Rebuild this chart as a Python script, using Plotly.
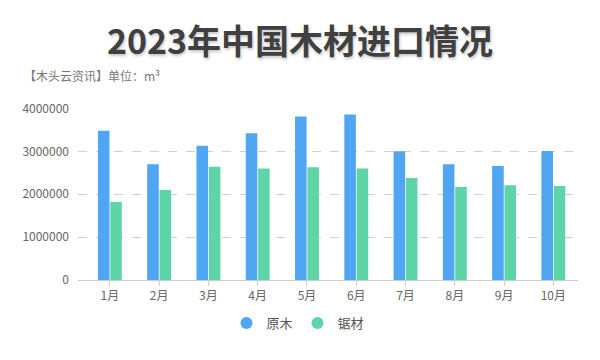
import plotly.graph_objects as go

months = ["1月", "2月", "3月", "4月", "5月", "6月", "7月", "8月", "9月", "10月"]
logs = [3480000, 2700000, 3130000, 3420000, 3810000, 3860000, 3000000, 2700000, 2660000, 3010000]
lumber = [1820000, 2100000, 2640000, 2600000, 2630000, 2600000, 2380000, 2170000, 2210000, 2190000]
series_names = ["原木", "锯材"]
colors = ["#50a6f3", "#5ed5a6"]

FONT = "Noto Sans CJK SC, Microsoft YaHei, sans-serif"

fig = go.Figure()
for name, vals, col in zip(series_names, [logs, lumber], colors):
    fig.add_trace(go.Bar(x=months, y=vals, name=name, marker=dict(color=col, line=dict(width=0)),
                         showlegend=False))
for name, col in zip(series_names, colors):
    fig.add_trace(go.Scatter(x=[months[0]], y=[None], name=name, mode="markers",
                             marker=dict(color=col, size=11, symbol="circle"), showlegend=True))

fig.update_layout(
    width=600, height=360,
    paper_bgcolor="white", plot_bgcolor="white",
    margin=dict(l=78, r=22, t=108, b=80, autoexpand=False),
    font=dict(family=FONT, color="#666666", size=12),
    barmode="group", bargap=0.5, bargroupgap=0.06,
    title=dict(text="<b>2023年中国木材进口情况</b>", x=0.5, xanchor="center", y=1 - 42 / 360, yanchor="middle",
               font=dict(size=34, color="#404040", family=FONT, shadow="1px 2px 3px rgba(0,0,0,0.22)")),
    legend=dict(orientation="h", x=0.44, xanchor="center", y=(280 - 323) / 172, yanchor="middle",
                font=dict(size=13, color="#555555"), itemsizing="constant", itemwidth=30),
    annotations=[dict(text="【木头云资讯】单位：m³", x=(22 - 78) / 500, xref="paper", y=(280 - 75) / 172, yref="paper",
                      showarrow=False, xanchor="left", yanchor="middle",
                      font=dict(size=12, color="#777777"))],
)

fig.update_xaxes(showline=True, linecolor="#cccccc", linewidth=1, ticks="outside", ticklen=5,
                 tickcolor="#cccccc", showgrid=False, tickfont=dict(size=12, color="#666666"),
                 automargin=False)
fig.update_yaxes(range=[0, 4010000], tickvals=[0, 1000000, 2000000, 3000000, 4000000], tickformat="d", showgrid=True,
                 gridcolor="#d0d0d0", griddash="dash", gridwidth=1, zeroline=False, showline=False,
                 tickfont=dict(size=12, color="#666666"), ticklabelstandoff=8, automargin=False)

fig.write_html("out.html", config={"displayModeBar": False},
               post_script="document.body.style.margin='0';document.body.style.padding='0';")
